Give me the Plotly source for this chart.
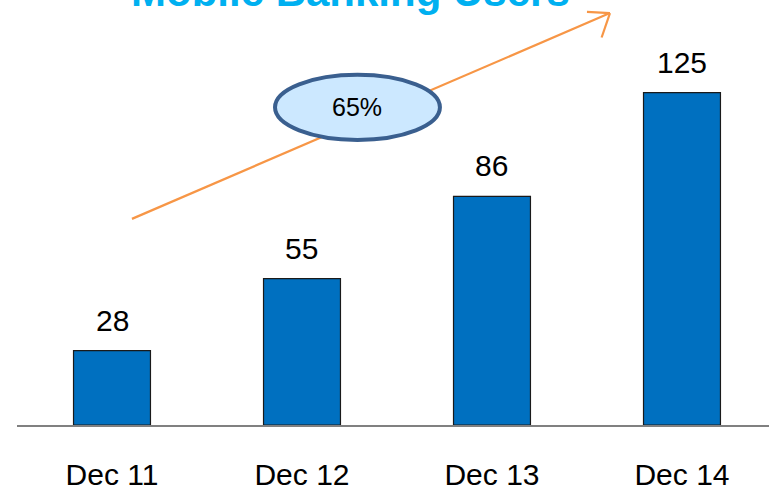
import plotly.graph_objects as go

categories = ["Dec 11", "Dec 12", "Dec 13", "Dec 14"]
users = [28, 55, 86, 125]
title_text = "Mobile Banking Users"
growth_label = "65%"

fig = go.Figure()
fig.add_trace(go.Bar(
    x=list(range(len(categories))), y=users, width=0.405,
    marker=dict(color="#0070C0", line=dict(color="#1a1a1a", width=1.2)),
    hoverinfo="skip",
))

annotations = []
for i, v in enumerate(users):
    annotations.append(dict(x=i, y=v, xref="x", yref="y", text=str(v), showarrow=False,
                            yanchor="bottom", yshift=12,
                            font=dict(family="Liberation Sans, Arial", size=30, color="black")))

annotations.append(dict(x=0.443, y=1, xref="paper", yref="paper", text="<b>" + title_text + "</b>",
                        showarrow=False, yanchor="middle", yshift=9,
                        font=dict(family="Liberation Sans, Arial", size=42, color="#00B0F0")))

# ellipse + label
annotations.append(dict(x=1.292, y=119.4, xref="x", yref="y", text=growth_label, showarrow=False,
                        font=dict(family="Liberation Sans, Arial", size=25, color="black")))

shapes = [
    # arrow line
    dict(type="line", xref="x", yref="y", x0=0.105, y0=77.5, x1=2.621, y1=154.9,
         line=dict(color="#F79646", width=2.2), layer="below"),
    dict(type="line", xref="x", yref="y", x0=2.621, y0=154.9, x1=2.5, y1=155.3,
         line=dict(color="#F79646", width=2.2)),
    dict(type="line", xref="x", yref="y", x0=2.621, y0=154.9, x1=2.577, y1=145.7,
         line=dict(color="#F79646", width=2.2)),
    dict(type="circle", xref="x", yref="y", x0=0.858, x1=1.726, y0=107.2, y1=131.7,
         fillcolor="#CCE8FF", line=dict(color="#3A5F8F", width=4)),
]

fig.update_layout(
    width=769, height=491,
    margin=dict(l=17, r=0, t=0, b=64),
    plot_bgcolor="white", paper_bgcolor="white",
    showlegend=False,
    annotations=annotations,
    shapes=shapes,
    xaxis=dict(range=[-0.5, 3.458], tickmode="array", tickvals=list(range(len(categories))),
               ticktext=categories, showgrid=False, zeroline=False,
               showline=True, linecolor="#808080", linewidth=2,
               ticks="", ticklabelstandoff=22,
               tickfont=dict(family="Liberation Sans, Arial", size=30, color="black")),
    yaxis=dict(range=[0, 159.8], visible=False, showgrid=False, zeroline=False),
)

fig.write_html("out.html", config={"displayModeBar": False, "staticPlot": True},
               post_script="document.body.style.margin='0';document.body.style.overflow='hidden';")
